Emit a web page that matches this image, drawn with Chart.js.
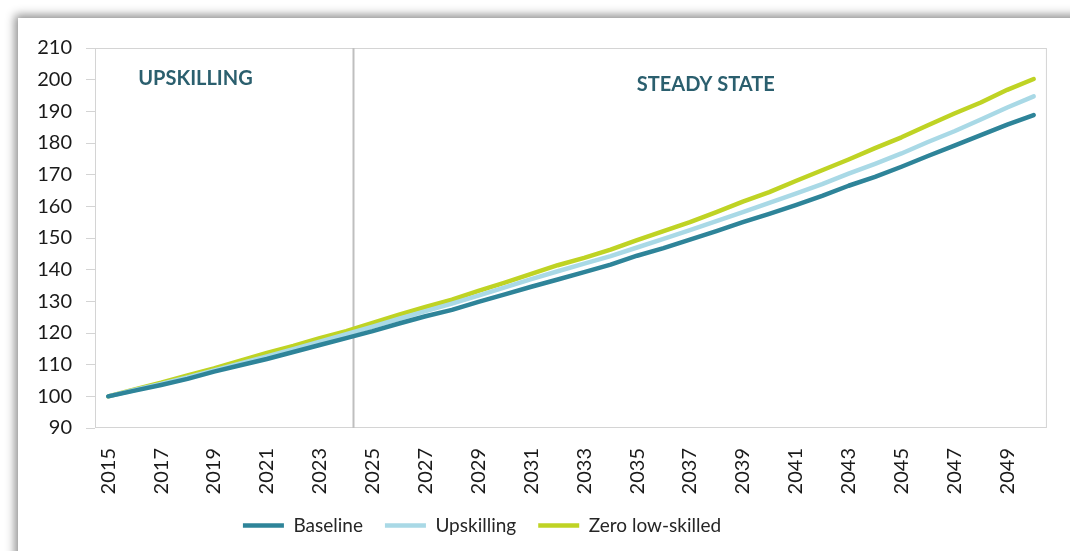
<!DOCTYPE html>
<html>
<head>
<meta charset="utf-8">
<script src="https://cdn.jsdelivr.net/npm/chart.js@4"></script>
<style>
  body { margin: 0; background: #fff; overflow: hidden; }
  #frame { position: absolute; left: 18px; top: 18px; width: 1100px; height: 600px; background: #fff;
           box-shadow: 0 0 9px 3px rgba(0,0,0,0.45); }
  #chart { position: absolute; left: 0; top: 0; z-index: 2; }
</style>
</head>
<body>
<div id="frame"></div>
<canvas id="chart" width="1070" height="551"></canvas>
<script>
var years = [
  "2015", "2016", "2017", "2018", "2019", "2020", "2021", "2022", "2023", "2024",
  "2025", "2026", "2027", "2028", "2029", "2030", "2031", "2032", "2033", "2034",
  "2035", "2036", "2037", "2038", "2039", "2040", "2041", "2042", "2043", "2044",
  "2045", "2046", "2047", "2048", "2049", "2050"
];

var baseline = [
  100, 101.8, 103.6, 105.5, 107.8, 109.8, 111.8, 114.0, 116.2, 118.4,
  120.6, 123.0, 125.3, 127.3, 129.8, 132.2, 134.6, 136.9, 139.2, 141.6,
  144.4, 146.8, 149.5, 152.2, 155.0, 157.6, 160.4, 163.3, 166.5, 169.3,
  172.5, 175.9, 179.2, 182.5, 185.8, 188.8
];

var upskilling = [
  100, 102.0, 103.9, 106.0, 108.2, 110.4, 112.6, 114.9, 117.3, 119.6,
  122.0, 124.5, 126.9, 129.3, 131.8, 134.4, 137.0, 139.5, 141.9, 144.3,
  147.0, 149.7, 152.5, 155.3, 158.2, 161.1, 164.0, 167.0, 170.3, 173.4,
  176.7, 180.3, 183.7, 187.4, 191.2, 194.7
];

var zeroLowSkilled = [
  100, 102.2, 104.3, 106.6, 108.8, 111.3, 113.7, 115.9, 118.4, 120.6,
  123.2, 125.8, 128.2, 130.5, 133.3, 135.9, 138.7, 141.4, 143.7, 146.3,
  149.3, 152.2, 155.0, 158.2, 161.5, 164.5, 168.0, 171.4, 174.8, 178.4,
  181.8, 185.6, 189.3, 192.8, 196.8, 200.2
];

var yTicks = [90, 100, 110, 120, 130, 140, 150, 160, 170, 180, 190, 200, 210];

// phase divider sits a quarter year after 2024
var dividerIndex = 9.25;

var phases = [
  { text: "UPSKILLING", index: 3.3, value: 200.5 },
  { text: "STEADY STATE", index: 22.6, value: 198.6 }
];

var fontName = "Lato, 'Open Sans', sans-serif";

var extras = {
  id: "extras",
  afterLayout: function(chart) {
    // legend sits a bit left of centre in the original
    chart.legend.left -= 42;
    chart.legend.right -= 42;
  },
  beforeDatasetsDraw: function(chart) {
    var ctx = chart.ctx, a = chart.chartArea;
    var xs = chart.scales.x, ys = chart.scales.y;
    ctx.save();
    ctx.strokeStyle = "#d4d4d4";
    ctx.lineWidth = 1;
    ctx.strokeRect(a.left + 0.5, a.top + 0.5, a.right - a.left - 1, a.bottom - a.top - 1);
    var dx = Math.round(xs.getPixelForValue(dividerIndex)) + 0.5;
    ctx.strokeStyle = "#bfbfbf";
    ctx.lineWidth = 2;
    ctx.beginPath();
    ctx.moveTo(dx, a.top);
    ctx.lineTo(dx, a.bottom);
    ctx.stroke();
    ctx.fillStyle = "#2b5f6e";
    ctx.font = "bold 20px " + fontName;
    ctx.textAlign = "center";
    ctx.textBaseline = "middle";
    phases.forEach(function(p) {
      ctx.fillText(p.text, xs.getPixelForValue(p.index), ys.getPixelForValue(p.value));
    });
    ctx.restore();
  }
};

function lineSet(label, data, color) {
  return {
    label: label,
    data: data,
    borderColor: color,
    backgroundColor: color,
    borderWidth: 4.5,
    borderCapStyle: "round",
    borderJoinStyle: "round",
    pointRadius: 0,
    tension: 0
  };
}

new Chart(document.getElementById("chart").getContext("2d"), {
  type: "line",
  data: {
    labels: years,
    datasets: [
      lineSet("Baseline", baseline, "#2e8499"),
      lineSet("Upskilling", upskilling, "#a9d9e6"),
      lineSet("Zero low-skilled", zeroLowSkilled, "#bfd324")
    ]
  },
  options: {
    responsive: false,
    animation: false,
    layout: { padding: { left: 0, right: 22, top: 48, bottom: 6 } },
    plugins: {
      tooltip: { enabled: false },
      legend: {
        position: "bottom",
        labels: {
          usePointStyle: true,
          pointStyle: "line",
          pointStyleWidth: 41,
          padding: 22,
          color: "#262626",
          font: { family: fontName, size: 19 }
        }
      }
    },
    scales: {
      x: {
        offset: true,
        grid: { display: false },
        border: { display: false },
        afterFit: function(s) { s.height = 66; },
        ticks: {
          autoSkip: false,
          maxRotation: 90,
          minRotation: 90,
          padding: 12,
          color: "#1a1a1a",
          font: { family: fontName, size: 20 },
          callback: function(v, i) { return i % 2 === 0 ? years[i] : ""; }
        }
      },
      y: {
        min: 90,
        max: 210,
        afterFit: function(s) { s.width = 95; },
        afterBuildTicks: function(s) { s.ticks = yTicks.map(function(v) { return { value: v }; }); },
        grid: { drawOnChartArea: false, drawTicks: true, tickLength: 9, color: "#d4d4d4" },
        border: { display: false },
        ticks: {
          padding: 14,
          color: "#1a1a1a",
          font: { family: fontName, size: 20 }
        }
      }
    }
  },
  plugins: [extras]
});
</script>
</body>
</html>
